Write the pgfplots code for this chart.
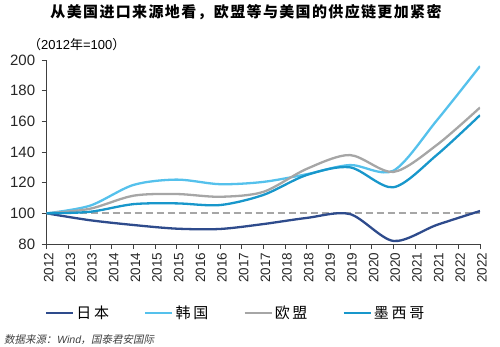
\documentclass[border=0pt]{standalone}
\usepackage{pgfplots}
\pgfplotsset{compat=1.18}
\usepackage{fontspec}
\setmainfont{Liberation Sans}
\newfontfamily\cjk{Noto Sans CJK SC}
\newfontfamily\cjksp[LetterSpace=18]{Noto Sans CJK SC}
\newfontfamily\cjkt[LetterSpace=9]{Noto Sans CJK SC}
\newfontfamily\cjkslant[FakeSlant=0.2]{Noto Sans CJK SC}
\newfontfamily\latslant[FakeSlant=0.2]{Liberation Sans}
\definecolor{cjp}{HTML}{2E4B8C}
\definecolor{ckr}{HTML}{55C1EC}
\definecolor{ceu}{HTML}{A6A6A6}
\definecolor{cmx}{HTML}{1897CB}
\definecolor{axcol}{HTML}{404040}
\begin{document}
\begin{tikzpicture}
\useasboundingbox (0,0) rectangle (500pt,346pt);
\node[font=\cjkt\bfseries\fontsize{15}{15}\selectfont, anchor=center] at (246pt,334pt) {从美国进口来源地看，欧盟等与美国的供应链更加紧密};
\node[font=\fontsize{13}{13}\selectfont, anchor=west, inner sep=0pt] at (28pt,301pt) {{\cjk （}2012{\cjk 年}=100{\cjk ）}};
\node[font=\fontsize{10.5}{10.5}\selectfont, anchor=west, inner sep=0pt, text=black!75] at (4pt,6pt) {{\cjkslant 数据来源：}{\latslant Wind}{\cjkslant ，国泰君安国际}};
\begin{axis}[
  at={(46.7pt,102pt)}, anchor=south west,
  scale only axis, width=433.3pt, height=184pt,
  xmin=0, xmax=20, ymin=80, ymax=200,
  axis x line*=bottom, axis y line*=left,
  axis line style={draw=axcol, line width=1pt},
  tick align=outside, major tick length=5pt,
  tick style={draw=axcol, line width=1pt},
  ytick={80,100,...,200},
  xtick={0,...,20},
  xticklabels={2012,2013,2013,2014,2014,2015,2015,2016,2016,2017,2017,2018,2018,2019,2019,2020,2020,2021,2021,2022,2022},
  /pgf/number format/assume math mode=true,
  yticklabel style={font=\fontsize{15}{15}\selectfont, text=black!85, xshift=-3pt},
  xticklabel style={rotate=90, anchor=east, font=\fontsize{13.5}{13.5}\selectfont, text=black!85, yshift=-2pt},
  legend columns=4,
  legend style={at={(0.436,-0.375)}, anchor=center, draw=none, fill=none,
    font=\cjksp\fontsize{15}{15}\selectfont,
    /tikz/every even column/.append style={column sep=33pt}},
  legend image code/.code={\draw[#1, line width=2.5pt] (0pt,0pt) -- (27pt,0pt);},
  every axis plot/.append style={line width=2.3pt, smooth},
]
\addplot[ceu, dashed, dash pattern=on 7pt off 4pt, line width=2pt, forget plot, sharp plot] coordinates {(0,100) (20,100)};
\addplot[cjp] coordinates {(0,100) (2,95.5) (4,92.4) (6,90) (8,89.8) (10,93) (12,97) (14,99.5) (16,82) (18,92.4) (20,101.5)};
\addplot[ckr] coordinates {(0,100) (2,105) (4,118.5) (6,122) (8,119) (10,120.5) (12,125.5) (14,131.5) (16,127.8) (18,160.5) (20,196)};
\addplot[ceu] coordinates {(0,100) (2,103) (4,111.5) (6,112.6) (8,110.8) (10,114) (12,129) (14,138) (16,127) (18,144.5) (20,169)};
\addplot[cmx] coordinates {(0,100) (2,101) (4,106) (6,106.5) (8,105.4) (10,112) (12,125) (14,130) (16,117) (18,138) (20,164)};
\legend{日本,韩国,欧盟,墨西哥}
\end{axis}
\end{tikzpicture}
\end{document}
